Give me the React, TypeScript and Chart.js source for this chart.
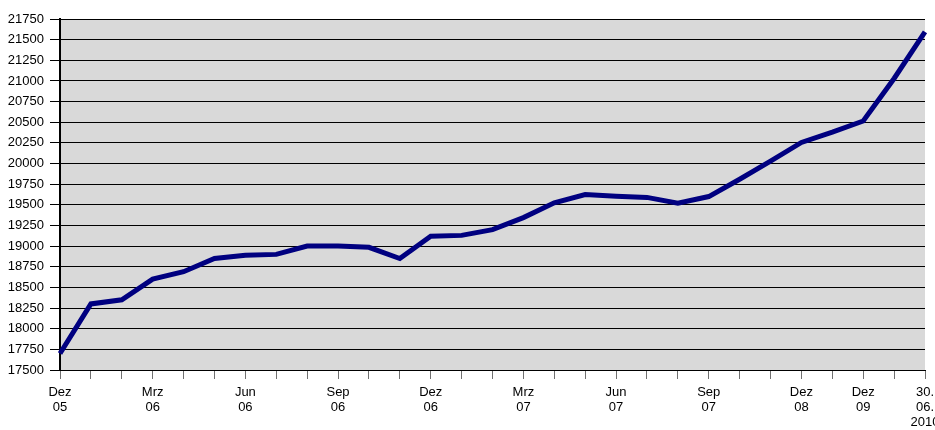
import React, { useEffect, useRef } from "react";
import { Chart, registerables } from "chart.js";

Chart.register(...registerables);

const categories: string[] = [
  "Dez 05", "", "", "Mrz 06", "", "", "Jun 06", "", "", "Sep 06", "", "",
  "Dez 06", "", "", "Mrz 07", "", "", "Jun 07", "", "", "Sep 07", "", "",
  "Dez 08", "", "Dez 09", "", "30. 06. 2010",
];

const values: number[] = [
  17700, 18300, 18350, 18600, 18690, 18850, 18890, 18900, 19000, 19000,
  18985, 18850, 19120, 19130, 19200, 19345, 19525, 19625, 19605, 19590,
  19520, 19600, 19810, 20030, 20255, 20380, 20515, 21030, 21595,
];

const yMin = 17500;
const yMax = 21750;
const yStep = 250;

const plotBackground = {
  id: "plotBackground",
  beforeDraw(chart: any) {
    const { ctx, chartArea } = chart;
    if (!chartArea) return;
    ctx.save();
    ctx.fillStyle = "#d9d9d9";
    ctx.fillRect(chartArea.left, chartArea.top, chartArea.right - chartArea.left, chartArea.bottom - chartArea.top);
    ctx.restore();
  },
};

export default function App() {
  const ref = useRef<HTMLCanvasElement | null>(null);
  useEffect(() => {
    document.body.style.margin = "0";
    const canvas = ref.current;
    if (!canvas) return;
    const chart = new Chart(canvas, {
      type: "line",
      data: {
        labels: categories,
        datasets: [
          {
            data: values,
            borderColor: "#000080",
            borderWidth: 5,
            pointRadius: 0,
            pointHoverRadius: 0,
            tension: 0,
            fill: false,
          },
        ],
      },
      options: {
        animation: false,
        responsive: false,
        maintainAspectRatio: false,
        layout: { padding: { top: 19, right: 10, left: 0, bottom: 0 } },
        plugins: { legend: { display: false }, tooltip: { enabled: false } },
        font: { family: "'Liberation Sans', Arial, sans-serif", size: 13 },
        scales: {
          x: {
            type: "category",
            offset: false,
            grid: {
              drawOnChartArea: false,
              drawTicks: true,
              tickLength: 9,
              tickColor: "#707070",
              offset: false,
            },
            border: { display: true, color: "#000", width: 1 },
            ticks: {
              autoSkip: false,
              maxRotation: 0,
              minRotation: 0,
              padding: 6,
              color: "#000",
              font: { family: "'Liberation Sans', Arial, sans-serif", size: 13, lineHeight: 1.15 },
              callback: function (this: any, value: any) {
                const lbl = String(this.getLabelForValue(value));
                return lbl ? lbl.split(" ") : "";
              },
            },
            afterFit(scale: any) {
              scale.height = 60;
              scale.paddingLeft = 0;
              scale.paddingRight = 0;
            },
          },
          y: {
            min: yMin,
            max: yMax,
            grid: {
              color: "#000",
              lineWidth: 1,
              drawTicks: true,
              tickLength: 10,
              tickColor: "#000",
            },
            border: { display: true, color: "#000", width: 2 },
            ticks: {
              stepSize: yStep,
              autoSkip: false,
              padding: 6,
              color: "#000",
              font: { family: "'Liberation Sans', Arial, sans-serif", size: 13 },
              callback: (v: any) => String(v),
            },
            afterFit(scale: any) {
              scale.width = 60;
            },
          },
        },
      },
      plugins: [plotBackground],
    });
    return () => chart.destroy();
  }, []);
  return (
    <div style={{ width: 935, height: 430 }}>
      <canvas ref={ref} width={935} height={430} style={{ display: "block" }} />
    </div>
  );
}
